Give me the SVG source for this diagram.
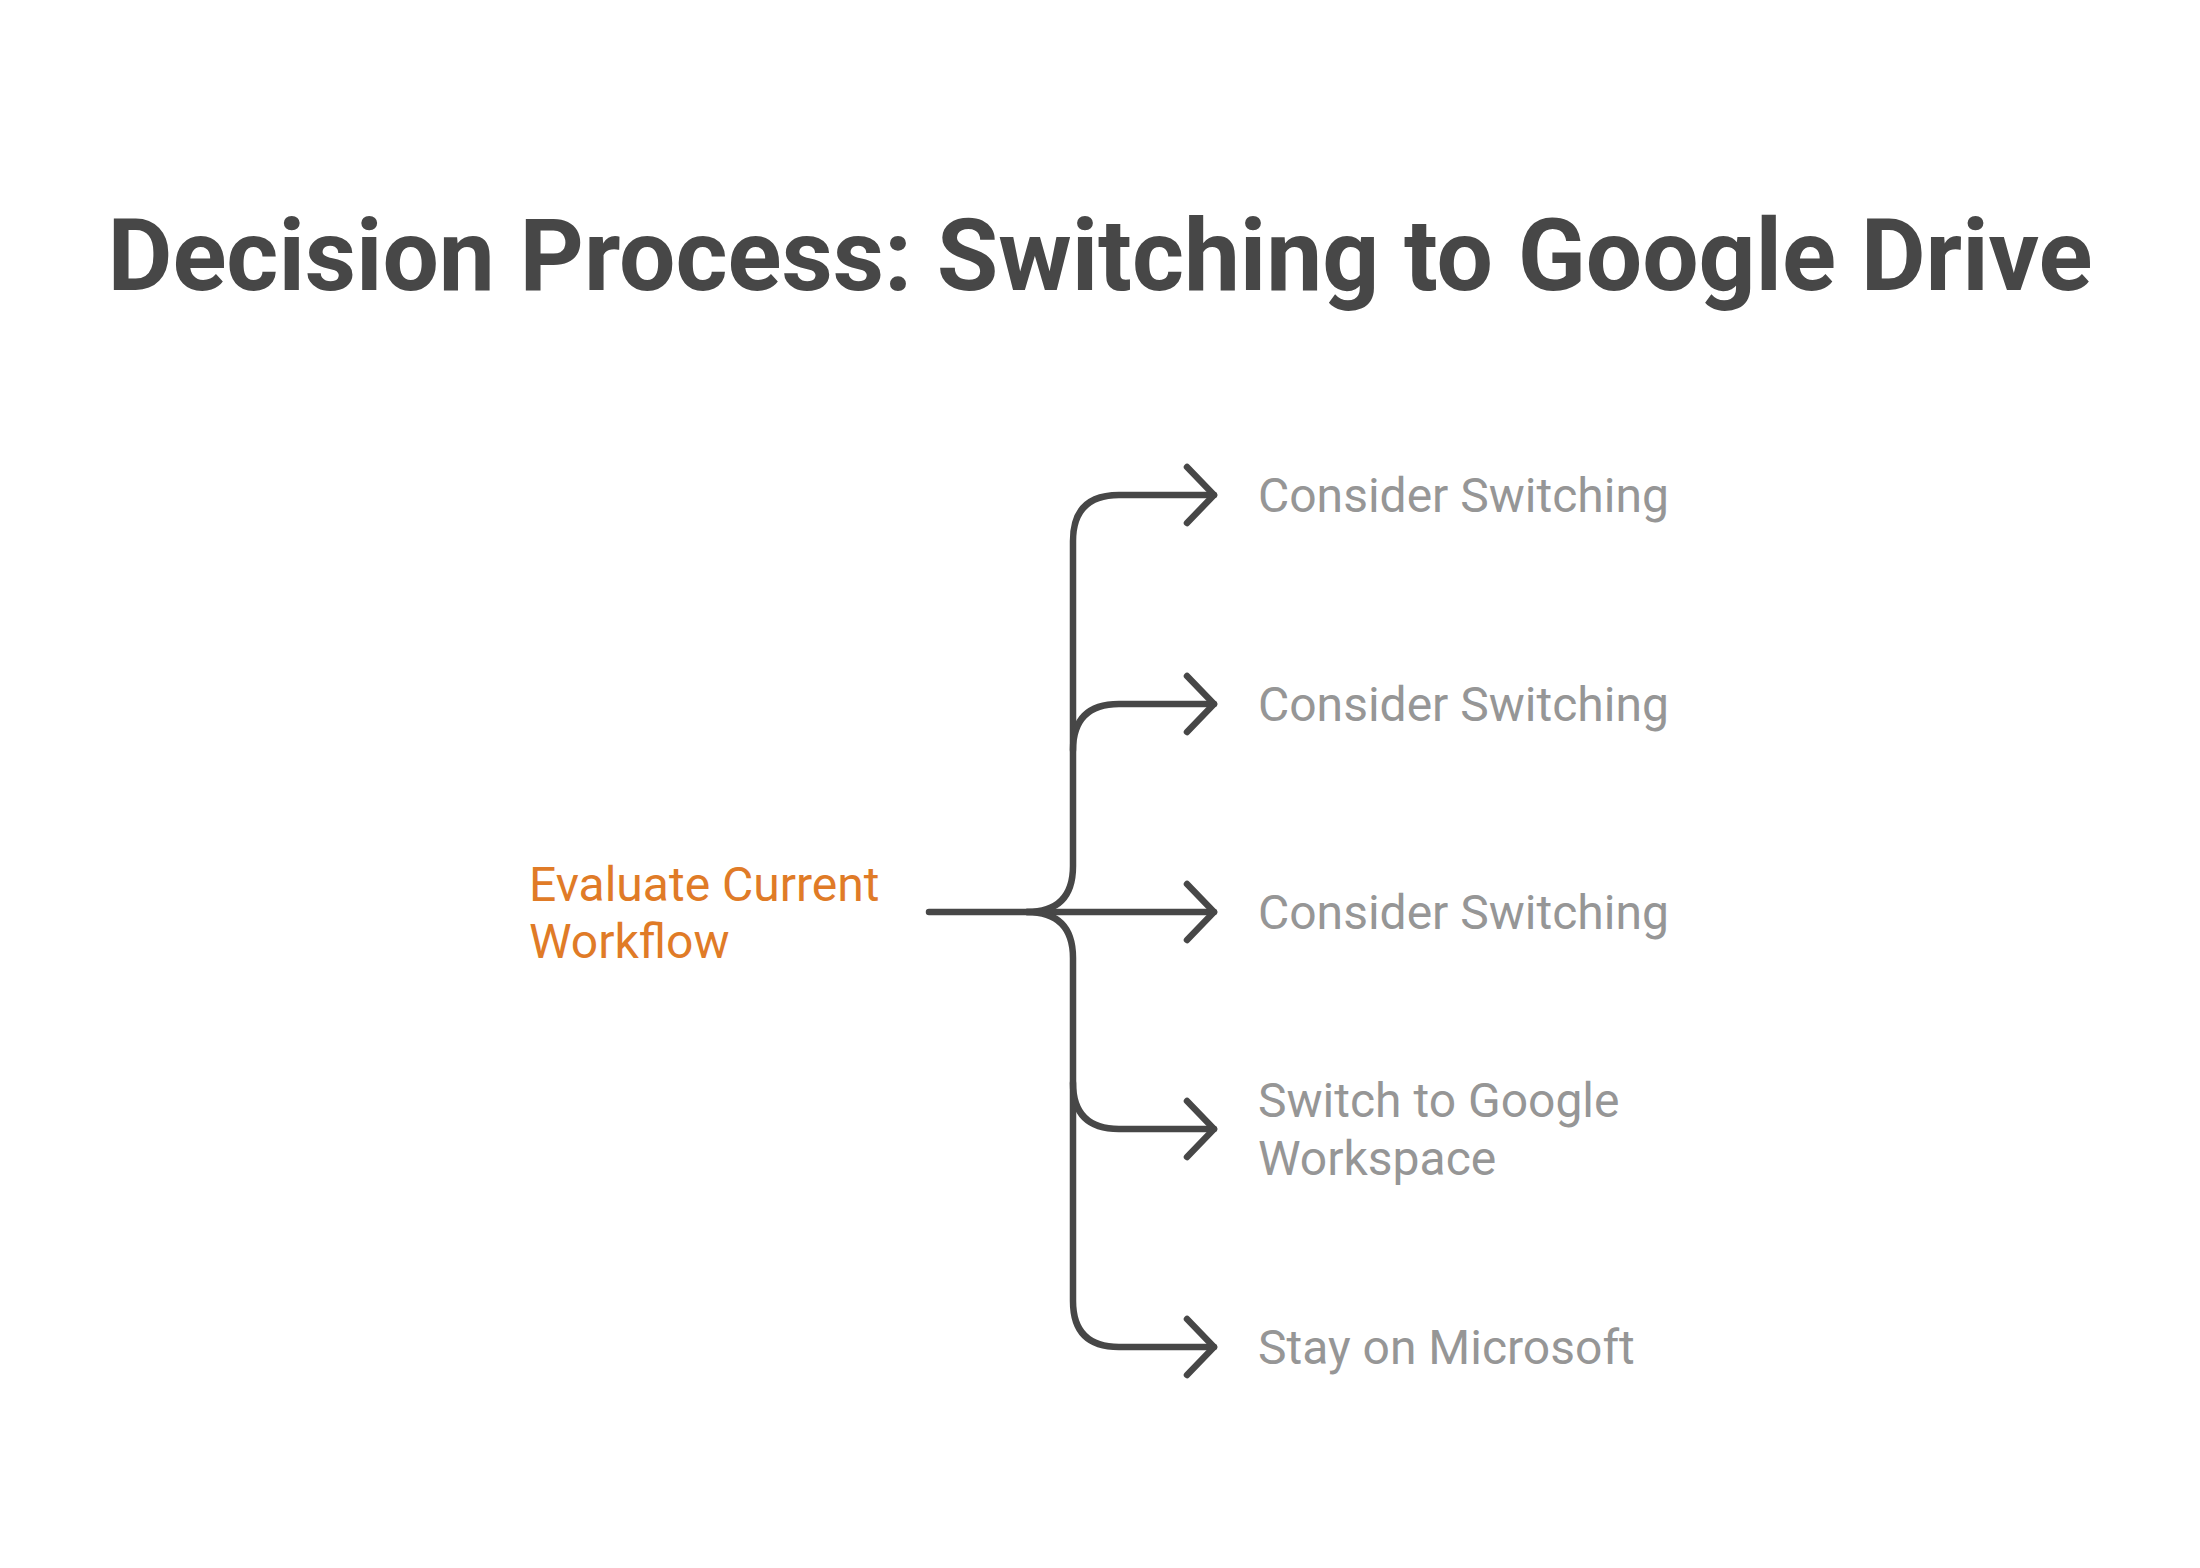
<svg xmlns="http://www.w3.org/2000/svg" width="2200" height="1568" viewBox="0 0 2200 1568">
<style>
.c{fill:none;stroke:#474747;stroke-width:6.5;stroke-linecap:round;stroke-linejoin:round}
.t{font-family:Roboto,"Liberation Sans",sans-serif;font-size:48px;fill:#969696}
</style>
<rect width="2200" height="1568" fill="#fff"/>
<g id="title"><text x="1100" y="290" text-anchor="middle" font-family="Roboto,'Liberation Sans',sans-serif" font-weight="bold" font-size="100" fill="#474747" textLength="1985">Decision Process: Switching to Google Drive</text></g>
<g id="connectors">
<path class="c" d="M929 912 H1027 Q1073 912 1073 866 V541 Q1073 495 1119 495 H1214"/>
<path class="c" d="M1073 750 Q1073 704 1119 704 H1214"/>
<path class="c" d="M1027 912 H1214"/>
<path class="c" d="M1027 912 Q1073 912 1073 958 V1301 Q1073 1347 1119 1347 H1214"/>
<path class="c" d="M1073 1083 Q1073 1129 1119 1129 H1214"/>
<path class="c" d="M1187 467 L1214 495 L1187 523 M1187 676 L1214 704 L1187 732 M1187 884 L1214 912 L1187 940 M1187 1101 L1214 1129 L1187 1157 M1187 1319 L1214 1347 L1187 1375"/>
</g>
<g id="root"><text font-family="Roboto,'Liberation Sans',sans-serif" font-size="48" fill="#e07b27"><tspan x="529" y="901">Evaluate Current</tspan><tspan x="529" y="958">Workflow</tspan></text></g>
<g id="n1"><text class="t" x="1258" y="512">Consider Switching</text></g>
<g id="n2"><text class="t" x="1258" y="721">Consider Switching</text></g>
<g id="n3"><text class="t" x="1258" y="929">Consider Switching</text></g>
<g id="n4"><text class="t"><tspan x="1258" y="1117">Switch to Google</tspan><tspan x="1258" y="1175">Workspace</tspan></text></g>
<g id="n5"><text class="t" x="1258" y="1364">Stay on Microsoft</text></g>
</svg>
